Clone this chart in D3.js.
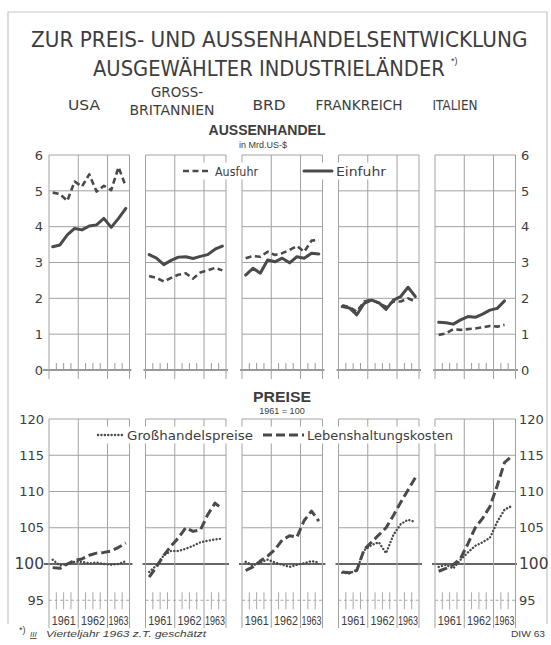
<!DOCTYPE html>
<html>
<head>
<meta charset="utf-8">
<script src="https://cdn.jsdelivr.net/npm/d3@7/dist/d3.min.js"></script>
<style>
    body { margin: 0; background: #fff; }
    svg text { font-family: "Liberation Sans", "DejaVu Sans", sans-serif; fill: #3d3d3d; }
</style>
</head>
<body>
<svg id="chart" width="551" height="645"></svg>
<script>
// ---- data ----
const countries = ["USA", "GROSSBRITANNIEN", "BRD", "FRANKREICH", "ITALIEN"];
const quarters = ["1961 I", "1961 II", "1961 III", "1961 IV", "1962 I", "1962 II", "1962 III", "1962 IV", "1963 I", "1963 II", "1963 III"];
const years = ["1961", "1962", "1963"];
const tradeTicks = [0, 1, 2, 3, 4, 5, 6];
const priceTicks = [95, 100, 105, 110, 115, 120];

// Aussenhandel in Mrd. US-$
const usaAusfuhr = [4.95, 4.91, 4.72, 5.26, 5.12, 5.46, 4.98, 5.14, 5.02, 5.66, 5.12];
const usaEinfuhr = [3.44, 3.49, 3.77, 3.95, 3.91, 4.02, 4.05, 4.23, 3.98, 4.23, 4.51];
const gbAusfuhr = [2.62, 2.57, 2.47, 2.57, 2.66, 2.70, 2.55, 2.72, 2.78, 2.85, 2.78];
const gbEinfuhr = [3.22, 3.12, 2.94, 3.06, 3.15, 3.16, 3.11, 3.17, 3.22, 3.37, 3.46];
const brdAusfuhr = [3.12, 3.18, 3.16, 3.30, 3.21, 3.26, 3.35, 3.46, 3.30, 3.61, 3.63];
const brdEinfuhr = [2.65, 2.84, 2.70, 3.07, 3.02, 3.12, 2.99, 3.16, 3.12, 3.26, 3.24];
const frAusfuhr = [1.81, 1.75, 1.63, 1.91, 1.97, 1.86, 1.77, 1.91, 1.91, 2.00, 1.91];
const frEinfuhr = [1.77, 1.73, 1.54, 1.86, 1.95, 1.88, 1.69, 1.95, 2.05, 2.31, 2.05];
const itAusfuhr = [0.98, 1.02, 1.14, 1.12, 1.14, 1.16, 1.19, 1.23, 1.21, 1.26];
const itEinfuhr = [1.33, 1.32, 1.28, 1.40, 1.49, 1.47, 1.56, 1.67, 1.72, 1.93];

// Preise, 1961 = 100
const usaGross = [100.6, 99.8, 100.0, 100.3, 100.3, 100.1, 100.2, 100.0, 99.9, 100.0, 100.4];
const usaLeben = [99.5, 99.4, 100.0, 100.5, 100.7, 101.2, 101.5, 101.6, 101.8, 102.3, 102.9];
const gbGross = [98.9, 99.8, 101.2, 101.8, 101.8, 102.1, 102.5, 103.0, 103.2, 103.4, 103.5];
const gbLeben = [98.2, 99.6, 101.2, 102.5, 103.6, 105.0, 104.5, 104.7, 106.8, 108.4, 107.6];
const brdGross = [100.3, 99.8, 100.2, 100.6, 100.2, 99.9, 99.6, 99.9, 100.1, 100.4, 100.2];
const brdLeben = [99.1, 99.6, 100.4, 101.1, 102.0, 103.3, 103.9, 103.7, 106.0, 107.3, 105.9];
const frGross = [98.8, 98.7, 99.2, 101.9, 102.6, 103.0, 101.5, 104.0, 105.5, 106.1, 105.8];
const frLeben = [98.9, 98.8, 99.1, 102.0, 103.0, 104.0, 105.0, 106.7, 108.5, 110.2, 111.9];
const itGross = [99.6, 99.9, 99.4, 100.6, 101.6, 102.5, 103.0, 103.6, 105.8, 107.5, 108.0];
const itLeben = [99.0, 99.4, 99.9, 100.8, 102.8, 105.0, 106.3, 107.9, 110.8, 114.0, 114.9];

const panels = [
    {ausfuhr: usaAusfuhr, einfuhr: usaEinfuhr, gross: usaGross, leben: usaLeben},
    {ausfuhr: gbAusfuhr, einfuhr: gbEinfuhr, gross: gbGross, leben: gbLeben},
    {ausfuhr: brdAusfuhr, einfuhr: brdEinfuhr, gross: brdGross, leben: brdLeben},
    {ausfuhr: frAusfuhr, einfuhr: frEinfuhr, gross: frGross, leben: frLeben},
    {ausfuhr: itAusfuhr, einfuhr: itEinfuhr, gross: itGross, leben: itLeben}
];

// ---- layout ----
const ink = "#4a4a4a";
const grid = "#a2a2a2";
const panelLeft = 49, panelStep = 96.5, panelWidth = 80.5;

const svg = d3.select("#chart");

const yTrade = d3.scaleLinear().domain([0, 6]).range([370, 155]);
const yPrice = d3.scaleLinear().domain([95, 120]).range([600.25, 419]);

const xScales = countries.map((c, i) => d3.scaleLinear()
    .domain([0, quarters.length])
    .range([panelLeft + i * panelStep, panelLeft + i * panelStep + panelWidth]));

// frame
svg.append("path")
    .attr("d", "M8,624V12H547V624")
    .attr("fill", "none")
    .attr("stroke", "#c4c4c4")
    .attr("stroke-width", 1.2);

// ---- headings ----
// wide title lines: squeeze horizontally with a transform so the box is the real one
const squeezed = (x, y, width, size, label) => {
    const t = svg.append("text").attr("font-size", size)
        .style("font-family", "'DejaVu Sans', sans-serif")
        .text(label);
    const natural = t.node().getComputedTextLength();
    t.attr("transform", `translate(${x},${y}) scale(${width / natural},1)`);
    return t;
};
squeezed(31, 47, 497, 21, "ZUR PREIS- UND AUSSENHANDELSENTWICKLUNG");
squeezed(93, 76, 352, 21, "AUSGEWÄHLTER INDUSTRIELÄNDER");
svg.append("text").attr("x", 451).attr("y", 64).attr("font-size", 9).attr("fill", "#999").text("*)");

const countryLabels = [
    {lines: ["USA"], x: 84, w: [32]},
    {lines: ["GROSS-", "BRITANNIEN"], x: 172, w: [52, 85]},
    {lines: ["BRD"], x: 269, w: [33]},
    {lines: ["FRANKREICH"], x: 359, w: [87]},
    {lines: ["ITALIEN"], x: 455, w: [45]}
];
countryLabels.forEach(c => {
    c.lines.forEach((line, j) => {
        const y = c.lines.length === 1 ? 110 : (j === 0 ? 96.5 : 115);
        svg.append("text").attr("x", j === 0 && c.lines.length > 1 ? c.x + 5 : c.x).attr("y", y)
            .attr("text-anchor", "middle").attr("font-size", 14)
            .attr("textLength", c.w[j]).attr("lengthAdjust", "spacingAndGlyphs")
            .style("font-family", "'DejaVu Sans', sans-serif")
            .text(line);
    });
});

svg.append("text").attr("x", 267).attr("y", 135).attr("text-anchor", "middle")
    .attr("font-size", 14).attr("font-weight", "bold").attr("textLength", 117).attr("lengthAdjust", "spacingAndGlyphs")
    .text("AUSSENHANDEL");
svg.append("text").attr("x", 263).attr("y", 148).attr("text-anchor", "middle")
    .attr("font-size", 9).attr("fill", "#666").text("in Mrd.US-$");

svg.append("text").attr("x", 282).attr("y", 402).attr("text-anchor", "middle")
    .attr("font-size", 14).attr("font-weight", "bold").attr("textLength", 58).attr("lengthAdjust", "spacingAndGlyphs")
    .text("PREISE");
svg.append("text").attr("x", 282).attr("y", 413.5).attr("text-anchor", "middle")
    .attr("font-size", 9).attr("fill", "#666").text("1961 = 100");

// ---- panel grids ----
const line = (g, x1, y1, x2, y2, w = 1, col = grid, dash = null) => g.append("line")
    .attr("x1", x1).attr("y1", y1).attr("x2", x2).attr("y2", y2)
    .attr("stroke", col).attr("stroke-width", w).attr("stroke-dasharray", dash);

const gridLayer = svg.append("g");
const yearBounds = [0, 4, 8, quarters.length];
const quarterTicks = d3.range(1, quarters.length).filter(q => q % 4 !== 0);

xScales.forEach((x, i) => {
    const left = x(0), right = x(quarters.length);

    // upper: Aussenhandel
    tradeTicks.filter(v => v > 0).forEach(v => line(gridLayer, left, yTrade(v), right, yTrade(v)));
    const b0 = i === 0 ? 43 : left - 2;
    const b1 = i === countries.length - 1 ? 518 : right + 2;
    line(gridLayer, b0, yTrade(0), b1, yTrade(0), 1.3, "#777");
    yearBounds.forEach(q => line(gridLayer, x(q), yTrade(6), x(q), yTrade(0) + 9));
    quarterTicks.forEach(q => line(gridLayer, x(q), yTrade(0), x(q), yTrade(0) - 7, 1, "#999"));

    // lower: Preise
    priceTicks.filter(v => v > 100).forEach(v => line(gridLayer, left, yPrice(v), right, yPrice(v)));
    const p0 = i === 0 ? 44 : left - 3;
    const p1 = i === countries.length - 1 ? 517 : right + 3;
    line(gridLayer, p0, yPrice(100), p1, yPrice(100), 1.8, "#666");
    line(gridLayer, left, yPrice(95), right, yPrice(95), 1, "#aaa", "3,2.5");
    yearBounds.forEach(q => line(gridLayer, x(q), yPrice(120), x(q), 628));
    quarterTicks.forEach(q => line(gridLayer, x(q), yPrice(95) - 8, x(q), yPrice(95) + 9, 1, "#aaa"));

    // year labels
    years.forEach((yr, k) => {
        const a = yearBounds[k], b = yearBounds[k + 1];
        svg.append("text").attr("x", x((a + b) / 2)).attr("y", 625)
            .attr("text-anchor", "middle").attr("font-size", 13)
            .attr("textLength", b - a === 4 ? 24 : 20).attr("lengthAdjust", "spacingAndGlyphs")
            .text(yr);
    });
});

// ---- axes (tick labels only) ----
const styleAxis = (g, bigHundred) => {
    g.select(".domain").remove();
    g.selectAll("text").attr("fill", "#555").style("font-size", "13px")
        .style("font-family", "'DejaVu Sans', sans-serif");
    if (bigHundred) {
        g.selectAll(".tick text").filter(d => d === 100)
            .style("font-size", "15.5px").attr("fill", "#333");
    }
};

svg.append("g").attr("transform", "translate(45,0)")
    .call(d3.axisLeft(yTrade).tickValues(tradeTicks).tickSize(0).tickPadding(2).tickFormat(d3.format("d")))
    .call(g => styleAxis(g, false));
svg.append("g").attr("transform", "translate(519,0)")
    .call(d3.axisRight(yTrade).tickValues(tradeTicks).tickSize(0).tickPadding(2).tickFormat(d3.format("d")))
    .call(g => styleAxis(g, false));
svg.append("g").attr("transform", "translate(46,0)")
    .call(d3.axisLeft(yPrice).tickValues(priceTicks).tickSize(0).tickPadding(2).tickFormat(d3.format("d")))
    .call(g => styleAxis(g, true));
svg.append("g").attr("transform", "translate(517,0)")
    .call(d3.axisRight(yPrice).tickValues(priceTicks).tickSize(0).tickPadding(2).tickFormat(d3.format("d")))
    .call(g => styleAxis(g, true));

// ---- series ----
const seriesStyle = {
    ausfuhr: {y: yTrade, dash: "6,3.5", width: 2.6, cap: "butt"},
    einfuhr: {y: yTrade, dash: null, width: 3, cap: "round"},
    gross: {y: yPrice, dash: "0.1,3.3", width: 2.4, cap: "round"},
    leben: {y: yPrice, dash: "9,4", width: 3, cap: "butt"}
};

const dataLayer = svg.append("g");
panels.forEach((p, i) => {
    const x = xScales[i];
    Object.keys(seriesStyle).forEach(key => {
        const s = seriesStyle[key];
        const path = d3.line()
            .x((d, k) => x(k + 0.5))
            .y(d => s.y(d));
        dataLayer.append("path")
            .datum(p[key])
            .attr("d", path)
            .attr("fill", "none")
            .attr("stroke", ink)
            .attr("stroke-width", s.width)
            .attr("stroke-linejoin", "round")
            .attr("stroke-linecap", s.cap)
            .attr("stroke-dasharray", s.dash);
    });
});

// ---- legends ----
const legend = (x1, x2, y, key, label, textX, textW) => {
    const s = seriesStyle[key];
    const g = svg.append("g");
    const t = g.append("text").attr("x", textX).attr("y", y + 4.5).attr("font-size", 13)
        .attr("textLength", textW).attr("lengthAdjust", "spacingAndGlyphs")
        .style("font-family", "'DejaVu Sans', sans-serif")
        .text(label);
    const bb = t.node().getBBox();
    g.insert("rect", "text").attr("x", x1 - 3).attr("y", bb.y - 1)
        .attr("width", bb.x + bb.width - x1 + 6).attr("height", bb.height + 2).attr("fill", "#fff");
    g.append("line").attr("x1", x1).attr("x2", x2).attr("y1", y).attr("y2", y)
        .attr("stroke", ink).attr("stroke-width", s.width)
        .attr("stroke-linecap", s.cap).attr("stroke-dasharray", s.dash);
};
legend(183, 211, 171, "ausfuhr", "Ausfuhr", 215, 43);
legend(304, 332, 171, "einfuhr", "Einfuhr", 336, 50);
legend(98, 125, 435, "gross", "Großhandelspreise", 127, 126);
legend(263, 304, 435, "leben", "Lebenshaltungskosten", 307, 146);

// ---- footnote ----
svg.append("text").attr("x", 19).attr("y", 633).attr("font-size", 9).attr("fill", "#777").text("*)");
svg.append("text").attr("x", 30).attr("y", 637).attr("font-size", 8).attr("fill", "#888")
    .attr("font-style", "italic").attr("text-decoration", "underline").text("III");
svg.append("text").attr("x", 46).attr("y", 637).attr("font-size", 8.5).attr("fill", "#9a9a9a")
    .attr("font-style", "italic").attr("textLength", 160).attr("lengthAdjust", "spacingAndGlyphs")
    .text("Vierteljahr 1963 z.T. geschätzt");
svg.append("text").attr("x", 511).attr("y", 637).attr("font-size", 8.5).attr("fill", "#999")
    .attr("textLength", 34).attr("lengthAdjust", "spacingAndGlyphs").text("DIW 63");
</script>
</body>
</html>
